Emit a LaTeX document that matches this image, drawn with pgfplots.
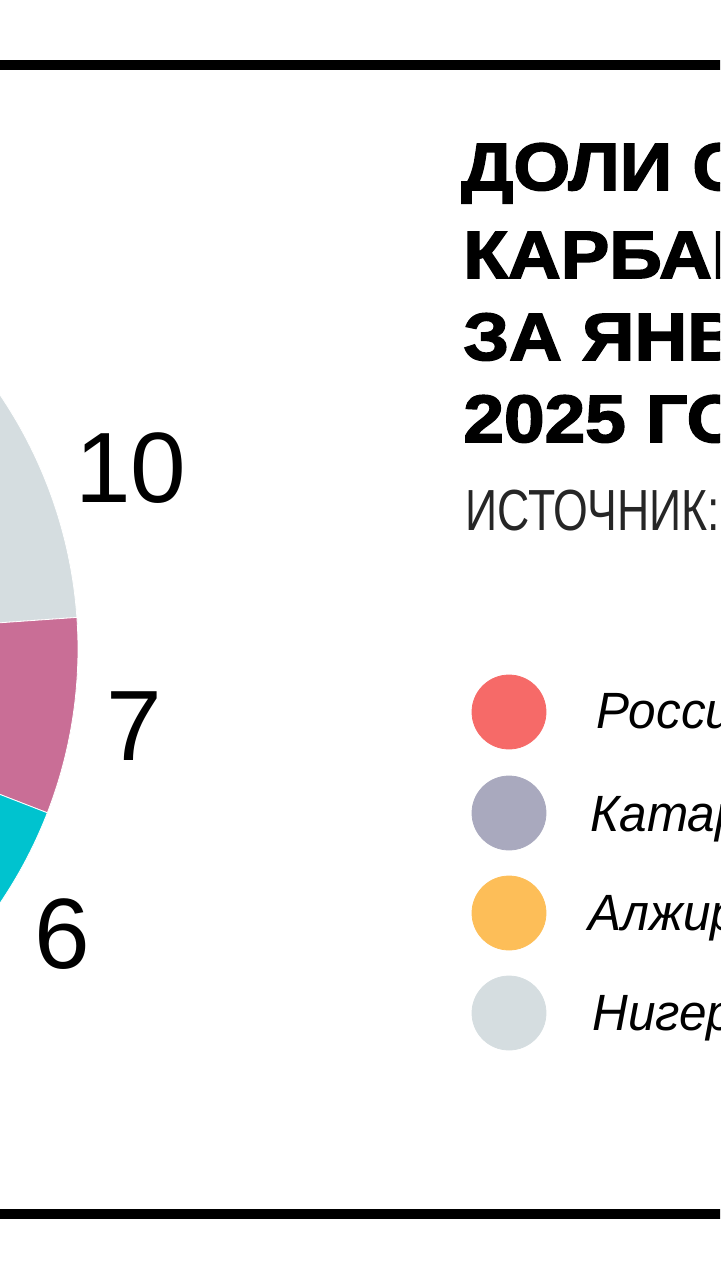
\documentclass[border=0pt]{standalone}
\usepackage{fontspec}
\usepackage{pgfplots}
\usepackage{pgfplotstable}
\pgfplotsset{compat=1.18}
\setmainfont{Liberation Sans}
\newfontfamily\heavy[FakeBold=2.4, FakeStretch=1.09]{Liberation Sans}
\newfontfamily\cond[FakeStretch=0.77]{Liberation Sans}
\newfontfamily\legfont[FakeStretch=0.97]{Liberation Sans}

\definecolor{russia}{HTML}{F66A68}
\definecolor{qatar}{HTML}{A9A9BE}
\definecolor{algeria}{HTML}{FDBE58}
\definecolor{nigeria}{HTML}{D5DDE0}
\definecolor{slicepink}{HTML}{C96E96}
\definecolor{sliceteal}{HTML}{00C3CF}

% shares, %, clockwise from the top edge of the grey slice
\pgfplotstableread{
share col
10 nigeria
7  slicepink
6  sliceteal
45 russia
18 qatar
14 algeria
}\piedata

\begin{document}
\begin{tikzpicture}
\useasboundingbox (0,0) rectangle (360pt,640pt);
\clip (0,0) rectangle (360pt,640pt);
% slice angles from the shares
\xdef\cum{40}
\foreach \i in {0,...,5}{
  \pgfplotstablegetelem{\i}{share}\of\piedata \let\v\pgfplotsretval
  \pgfplotstablegetelem{\i}{col}\of\piedata \let\c\pgfplotsretval
  \pgfmathsetmacro\e{\cum-3.6*\v}
  \expandafter\xdef\csname sA\i\endcsname{\cum}
  \expandafter\xdef\csname sE\i\endcsname{\e}
  \expandafter\xdef\csname sC\i\endcsname{\c}
  \xdef\cum{\e}
}
\begin{axis}[
  x=0.5pt, y=0.5pt,
  xmin=0, xmax=720, ymin=0, ymax=1280,
  y dir=reverse,
  hide axis,
  anchor=south west, at={(0,0)},
]
% pie, centre off the left edge
\pgfplotsinvokeforeach{0,...,5}{
  \fill[\csname sC#1\endcsname, draw=white, line width=0.4pt]
    (axis cs:-375,649) -- ++(\csname sA#1\endcsname:226.5pt)
    arc[start angle=\csname sA#1\endcsname, end angle=\csname sE#1\endcsname, radius=226.5pt]
    -- cycle;
}
\node[anchor=base, inner sep=0, font=\fontsize{50}{50}\selectfont] at (axis cs:131,502) {10};
\node[anchor=base, inner sep=0, font=\fontsize{50}{50}\selectfont] at (axis cs:134,760) {7};
\node[anchor=base, inner sep=0, font=\fontsize{50}{50}\selectfont] at (axis cs:62,968) {6};

% rules
\addplot[black, line width=5pt] coordinates {(-10,65) (730,65)};
\addplot[black, line width=5pt] coordinates {(-10,1214) (730,1214)};

% title
\begin{scope}[every node/.style={anchor=base west, inner sep=0, font=\heavy\bfseries\fontsize{33.5}{40}\selectfont}]
\node at (axis cs:461,190) {ДОЛИ СТРАН В ИМПОРТЕ};
\node at (axis cs:463,278) {КАРБАМИДА В ЕС};
\node at (axis cs:463,360) {ЗА ЯНВАРЬ–МАЙ};
\node at (axis cs:463,442) {2025 ГОДА};
\end{scope}
\node[anchor=base west, inner sep=0, text=black!85, font=\cond\fontsize{29}{34}\selectfont] at (axis cs:465,530) {ИСТОЧНИК: ЕВРОСТАТ};

% legend
\addplot[only marks, mark=*, mark size=18.5pt, color=russia] coordinates {(509,712)};
\addplot[only marks, mark=*, mark size=18.5pt, color=qatar] coordinates {(509,813)};
\addplot[only marks, mark=*, mark size=18.5pt, color=algeria] coordinates {(509,913)};
\addplot[only marks, mark=*, mark size=18.5pt, color=nigeria] coordinates {(509,1013)};
\begin{scope}[every node/.style={anchor=base west, inner sep=0, font=\legfont\itshape\fontsize{25.5}{30}\selectfont}]
\node at (axis cs:596,728) {Россия};
\node at (axis cs:590,831) {Катар};
\node at (axis cs:588,930) {Алжир};
\node at (axis cs:592,1030) {Нигерия};
\end{scope}
\end{axis}
\end{tikzpicture}
\end{document}
